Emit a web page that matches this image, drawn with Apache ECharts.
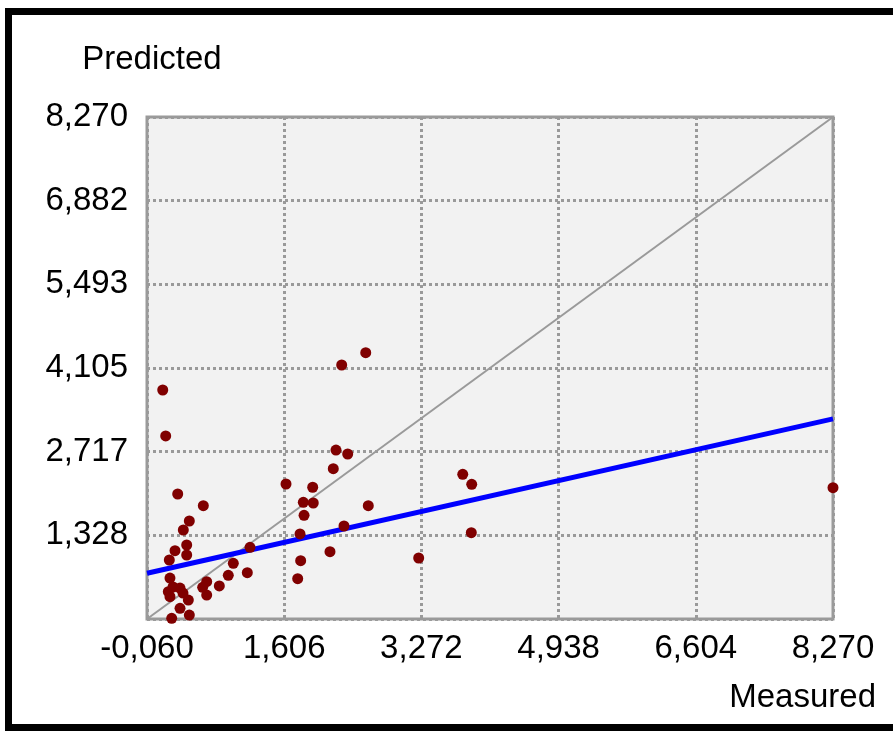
<!DOCTYPE html>
<html>
<head>
<meta charset="utf-8">
<script src="https://cdn.jsdelivr.net/npm/echarts@6/dist/echarts.min.js"></script>
<style>html,body{margin:0;padding:0;background:#fff}#c{width:893px;height:733px}</style>
</head>
<body>
<div id="c"></div>
<script>
// Axis range and ticks
var axisMin = -0.060;
var axisMax = 8.270;
var xTickCount = 5;
var yTickCount = 6;

// Measured (x) and Predicted (y) values
var measured = [0.131,0.167,0.313,0.624,0.454,0.381,0.422,0.280,0.422,0.211,0.988,1.191,1.158,0.927,0.219,0.665,0.818,0.616,0.341,0.199,0.665,0.219,0.442,0.341,0.454,0.240,0.256,0.377,
  2.596,2.304,2.235,2.377,2.202,1.628,1.952,3.774,3.883,1.838,1.959,2.627,1.847,2.332,1.798,3.878,2.162,1.806,3.239,1.770,8.270];
var predicted = [3.740,2.977,2.014,1.820,1.566,1.417,1.168,1.073,1.002,0.919,0.864,1.130,0.708,0.665,0.620,0.559,0.488,0.466,0.454,0.393,0.338,0.310,0.255,0.118,0.006,-0.048,0.471,0.371,
  4.359,4.155,2.744,2.678,2.434,2.180,2.126,2.341,2.175,1.877,1.865,1.820,1.661,1.483,1.351,1.372,1.057,0.907,0.952,0.609,2.119];

// Identity line and fitted regression line end points
var identityLine = [[-0.060,-0.060],[8.270,8.270]];
var fitLine = [[-0.060,0.700],[8.270,3.260]];

var points = measured.map(function(m,i){return [m, predicted[i]];});
function fmt(v){return v.toFixed(3).replace('.', ',');}

var chart = echarts.init(document.getElementById('c'));
var font = 'Liberation Sans, Arial, sans-serif';
var fs = 33;
chart.setOption({
  backgroundColor:'#ffffff',
  animation:false,
  grid:{left:147,right:60,top:117,bottom:114,show:true,backgroundColor:'#f2f2f2',borderColor:'#9a9a9a',borderWidth:3},
  xAxis:{type:'value',min:axisMin,max:axisMax,interval:(axisMax-axisMin)/xTickCount,
    axisLine:{show:false},axisTick:{show:false},
    splitLine:{show:true,lineStyle:{color:'#9a9a9a',width:3,type:[3,3]}},
    axisLabel:{formatter:fmt,margin:13,color:'#000',fontSize:fs,fontFamily:font}},
  yAxis:{type:'value',min:axisMin,max:axisMax,interval:(axisMax-axisMin)/yTickCount,
    axisLine:{show:false},axisTick:{show:false},
    splitLine:{show:true,lineStyle:{color:'#9a9a9a',width:3,type:[3,3]}},
    axisLabel:{formatter:fmt,margin:19,color:'#000',fontSize:fs,fontFamily:font,showMinLabel:false},
    name:'Predicted',nameLocation:'end',nameGap:41,
    nameTextStyle:{color:'#000',fontSize:fs,fontFamily:font,align:'center'}},
  graphic:[
    {type:'text',right:17,top:681,style:{text:'Measured',fill:'#000',fontSize:fs,fontFamily:font}},
    {type:'rect',shape:{x:8.5,y:11.5,width:900,height:716},style:{fill:'none',stroke:'#000',lineWidth:7},z:-1}
  ],
  series:[
    {type:'line',data:identityLine,showSymbol:false,symbol:'none',lineStyle:{color:'#9a9a9a',width:2},z:2,silent:true},
    {type:'line',data:fitLine,showSymbol:false,symbol:'none',lineStyle:{color:'#0000ff',width:5},z:3,silent:true},
    {type:'scatter',data:points,symbol:'circle',symbolSize:11,itemStyle:{color:'#800000',opacity:1},z:4}
  ]
});
</script>
</body>
</html>
